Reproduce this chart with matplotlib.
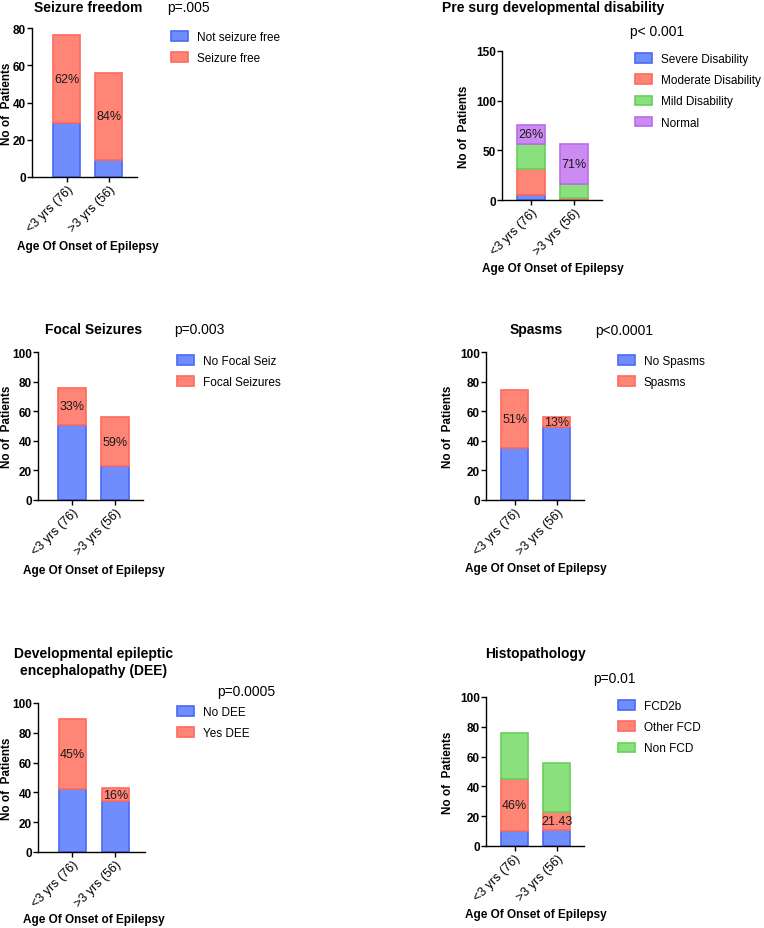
import numpy as np
import matplotlib.pyplot as plt

plt.rcParams["font.family"] = ["Liberation Sans", "DejaVu Sans"]

W, H = 764, 929

groups = ["<3 yrs (76)", ">3 yrs (56)"]

# Seizure freedom
sf_labels = ["Not seizure free", "Seizure free"]
sf_not_free = [29, 9]
sf_free = [47, 47]
sf_pct = ["62%", "84%"]

# Pre surgical developmental disability
dd_labels = ["Severe Disability", "Moderate Disability", "Mild Disability", "Normal"]
dd_severe = [5, 0]
dd_moderate = [26, 2]
dd_mild = [25, 14]
dd_normal = [20, 40]
dd_pct = ["26%", "71%"]

# Focal seizures
fs_labels = ["No Focal Seiz", "Focal Seizures"]
fs_no = [51, 23]
fs_yes = [25, 33]
fs_pct = ["33%", "59%"]

# Spasms
sp_labels = ["No Spasms", "Spasms"]
sp_no = [35, 49]
sp_yes = [39, 7]
sp_pct = ["51%", "13%"]

# DEE
de_labels = ["No DEE", "Yes DEE"]
de_no = [42, 34]
de_yes = [47, 9]
de_pct = ["45%", "16%"]

# Histopathology
hp_labels = ["FCD2b", "Other FCD", "Non FCD"]
hp_fcd2b = [10, 11]
hp_other = [35, 12]
hp_non = [31, 33]
hp_pct = ["46%", "21.43"]

BLUE = ("#6f8dfd", "#4a6af5")
RED = ("#ff8677", "#ff6a5e")
GREEN = ("#8be07e", "#67d05b")
PURPLE = ("#cc8af3", "#b86de9")


def fx(x):
    return x / W


def fy(y):
    return 1 - y / H


fig = plt.figure(figsize=(W / 100, H / 100), dpi=100)


def panel(rect_px, ymax, ystep, xlim, series, colors, names, pct, pct_layer,
          title, title_xy, pval, pval_xy, leg_xy, ylab_x, xlab_xy, pct_size=9):
    x0, x1, ytop, ybot = rect_px
    w, h = x1 - x0, ybot - ytop
    ax = fig.add_axes([fx(x0), fy(ybot), fx(w), h / H])
    x = np.arange(len(groups))
    bottom = np.zeros(len(groups))
    bots = []
    for vals, (fc, ec), name in zip(series, colors, names):
        vals = np.array(vals, dtype=float)
        ax.bar(x, vals, width=0.64, bottom=bottom, color=fc, edgecolor=ec,
               linewidth=1.2, label=name)
        bots.append((bottom.copy(), vals))
        bottom = bottom + vals
    b, v = bots[pct_layer]
    for i in range(len(groups)):
        ax.text(x[i], b[i] + v[i] / 2, pct[i], ha="center", va="center",
                fontsize=pct_size, color="#1a1a1a")
    ax.set_ylim(0, ymax)
    ax.set_xlim(*xlim)
    ax.set_yticks(np.arange(0, ymax + 1, ystep))
    ax.set_xticks(x)
    ax.set_xticklabels(groups, rotation=45, ha="right", rotation_mode="anchor",
                       fontsize=9)
    for lab in ax.get_yticklabels():
        lab.set_fontweight("bold")
        lab.set_fontsize(8.5)
    for s in ["top", "right"]:
        ax.spines[s].set_visible(False)
    for s in ["left", "bottom"]:
        ax.spines[s].set_linewidth(1.0)
    ax.tick_params(width=1.0, length=3.5, pad=1)
    ax.set_ylabel("No of  Patients", fontsize=8.5, fontweight="bold",
                  va="center")
    ax.yaxis.set_label_coords((ylab_x - x0) / w, 0.5)
    ax.set_xlabel("Age Of Onset of Epilepsy", fontsize=8.5, fontweight="bold",
                  va="center")
    ax.xaxis.set_label_coords((xlab_xy[0] - x0) / w, (ybot - xlab_xy[1]) / h)
    fig.text(fx(title_xy[0]), fy(title_xy[1]), title, ha="center",
             va="baseline", fontsize=10, fontweight="bold", linespacing=1.3)
    fig.text(fx(pval_xy[0]), fy(pval_xy[1]), pval, ha="left", va="baseline",
             fontsize=10)
    ax.legend(loc="upper left", bbox_to_anchor=(fx(leg_xy[0]), fy(leg_xy[1])),
              bbox_transform=fig.transFigure, frameon=False, borderpad=0,
              borderaxespad=0, fontsize=8.5, handlelength=1.45,
              handleheight=0.85, handletextpad=0.75, labelspacing=0.78)
    return ax


panel((32, 137, 29, 178), 80, 20, (-0.83, 1.67),
      [sf_not_free, sf_free], [BLUE, RED], sf_labels, sf_pct, 1,
      "Seizure freedom", (88, 12), "p=.005", (167, 12), (171, 32),
      7.5, (88, 247))

panel((502, 602, 52, 201), 150, 50, (-0.67, 1.65),
      [dd_severe, dd_moderate, dd_mild, dd_normal],
      [BLUE, RED, GREEN, PURPLE], dd_labels, dd_pct, 3,
      "Pre surg developmental disability", (553, 12), "p< 0.001", (630, 36),
      (635, 54), 464, (553, 269))

panel((38, 143, 353, 501), 100, 20, (-0.79, 1.65),
      [fs_no, fs_yes], [BLUE, RED], fs_labels, fs_pct, 1,
      "Focal Seizures", (94, 334), "p=0.003", (174, 334), (177, 356),
      7.5, (94, 571))

panel((486, 584, 353, 501), 100, 20, (-0.68, 1.65),
      [sp_no, sp_yes], [BLUE, RED], sp_labels, sp_pct, 1,
      "Spasms", (536, 334), "p<0.0001", (595, 335), (618, 356),
      448, (536, 569))

panel((38, 145, 704, 853), 100, 20, (-0.8, 1.69),
      [de_no, de_yes], [BLUE, RED], de_labels, de_pct, 1,
      "Developmental epileptic\nencephalopathy (DEE)", (94, 675),
      "p=0.0005", (217, 696), (177, 707), 7.5, (94, 920))

panel((486, 584, 698, 847), 100, 20, (-0.68, 1.65),
      [hp_fcd2b, hp_other, hp_non], [BLUE, RED, GREEN], hp_labels, hp_pct, 1,
      "Histopathology", (535, 658), "p=0.01", (593, 683), (618, 701),
      448, (536, 915))

fig.savefig("out.png", dpi=100, facecolor="white")
